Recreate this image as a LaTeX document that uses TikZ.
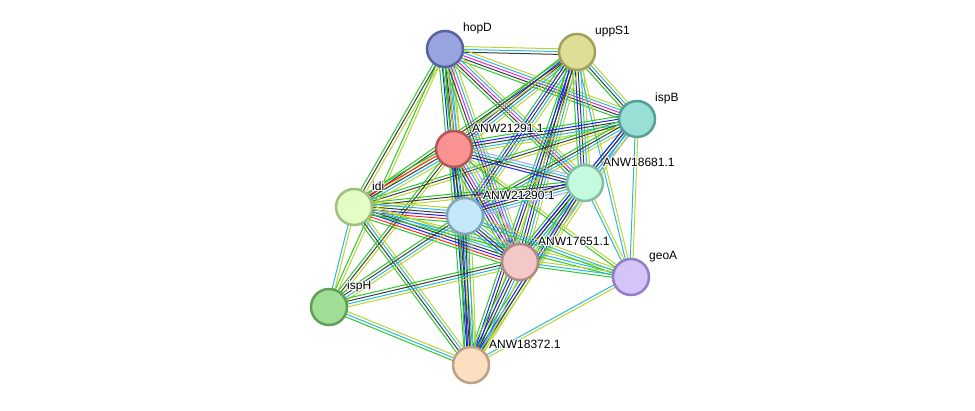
\documentclass[tikz,border=0pt]{standalone}
\usepackage{fontspec}
\setmainfont{Liberation Sans}
\usepackage{contour}
\contourlength{0.9pt}
\usetikzlibrary{calc,backgrounds}
\definecolor{cg}{RGB}{45,200,45}
\definecolor{cr}{RGB}{250,40,40}
\definecolor{cb}{RGB}{30,30,250}
\definecolor{ck}{RGB}{60,60,60}
\definecolor{cm}{RGB}{225,40,225}
\definecolor{cc}{RGB}{40,185,220}
\definecolor{cy}{RGB}{190,212,45}
\definecolor{ch}{RGB}{165,165,255}
\tikzset{
  prot/.style={circle, minimum size=36pt, inner sep=0pt, line width=2.5pt},
  lbl/.style={anchor=west, inner sep=0pt, font=\fontsize{12}{14}\selectfont},
  edge/.style={line width=1pt}
}
\newcommand\bundle[3]{%
  \gdef\nn{0}%
  \foreach \c in {#3}{\xdef\nn{\the\numexpr\nn+1\relax}}%
  \foreach \c [count=\i] in {#3}{%
    \pgfmathsetlengthmacro\off{(\i-(\nn+1)/2)*2.8}%
    \draw[edge, draw=\c] ($(#1)!\off!90:(#2)$) -- ($(#2)!\off!-90:(#1)$);%
  }%
}
\newcommand\prot[6]{%
  \definecolor{f#1}{RGB}{#4}\definecolor{b#1}{RGB}{#5}%
  \node[prot, fill=f#1, draw=b#1] (#1) at (#2,#3) {};
  \node[lbl] (l#1) at ($(#1)+(18,-20)$) {\contour{white}{#6}};
}
\begin{document}
\begin{tikzpicture}[x=1pt,y=-1pt]
\useasboundingbox (0,0) rectangle (975,411);
\prot{hopD}{445}{49}{152,164,222}{88,98,160}{hopD}
\prot{uppS1}{577}{52}{222,222,150}{160,160,92}{uppS1}
\prot{ispB}{637}{119}{152,224,214}{86,158,150}{ispB}
\prot{nA}{454}{149}{250,146,146}{180,86,86}{ANW21291.1}
\prot{nB}{585}{183}{196,250,222}{130,190,160}{ANW18681.1}
\prot{idi}{354}{207}{226,254,196}{160,190,130}{idi}
\prot{nC}{465}{216}{196,232,250}{130,165,190}{ANW21290.1}
\prot{nD}{520}{262}{245,200,200}{180,136,136}{ANW17651.1}
\prot{geoA}{631}{277}{212,196,250}{146,126,196}{geoA}
\prot{ispH}{329}{307}{160,222,150}{96,160,86}{ispH}
\prot{nE}{471}{365}{252,222,192}{190,160,130}{ANW18372.1}
\begin{pgfonlayer}{background}
\bundle{hopD}{uppS1}{ck,cc,cy}
\bundle{hopD}{ispB}{cg,ck,cm,cc,cy}
\bundle{hopD}{nA}{cg,cb,ck,cm,cc,cy}
\bundle{hopD}{idi}{cg,ck,cy}
\bundle{hopD}{ispH}{cg,cy}
\bundle{hopD}{nB}{cg,ck,cm,cc,cy}
\bundle{hopD}{nC}{cg,ck,cc,cy}
\bundle{hopD}{nD}{cg,ck,cm,cc,cy}
\bundle{hopD}{nE}{cg,cy}
\bundle{uppS1}{ispB}{cg,ck,cc,cy}
\bundle{uppS1}{nA}{cg,cb,ck,cc,cy}
\bundle{uppS1}{nB}{cg,cb,ck,cc,cy}
\bundle{uppS1}{idi}{cg,ck,cy}
\bundle{uppS1}{nC}{cg,cb,ck,cc,cy}
\bundle{uppS1}{nD}{cg,cb,ck,cc,cy}
\bundle{uppS1}{geoA}{cc,cy}
\bundle{uppS1}{nE}{cg,cb,ck,cy}
\bundle{ispB}{nA}{cg,cb,ck,cc,cy}
\bundle{ispB}{nB}{cc,cb,ch,ch}
\bundle{ispB}{idi}{cg,ck,cy}
\bundle{ispB}{nC}{cg,ck,cc,cy}
\bundle{ispB}{nD}{cb,ck,cc,ch}
\bundle{ispB}{geoA}{cc,cy}
\bundle{ispB}{nE}{cc,cy}
\bundle{nA}{nB}{cb,ck,cc,ch}
\bundle{nA}{idi}{cg,cr,ck,cc,cy}
\bundle{nA}{nC}{cg,cb,ck,cc,cy}
\bundle{nA}{nD}{cg,cb,ck,cm,cc,cy,ch}
\bundle{nA}{ispH}{cg,ck,cy}
\bundle{nA}{nE}{cg,cb,ck,cc,cy}
\bundle{nA}{geoA}{cg,cy}
\bundle{nB}{idi}{cg,ck,cy}
\bundle{nB}{nC}{cb,ck,cc,ch}
\bundle{nB}{nD}{cg,cb,ck,cc,cy,ch}
\bundle{nB}{geoA}{cc,cy}
\bundle{nB}{nE}{cg,cb,ck,cy}
\bundle{idi}{nC}{cg,cr,cb,ck,cc,cy}
\bundle{idi}{nD}{cg,cr,cb,ck,cc,cy}
\bundle{idi}{geoA}{cg,cc,cy}
\bundle{idi}{ispH}{cc,cy}
\bundle{idi}{nE}{cg,ck,cc,cy}
\bundle{nC}{nD}{cg,cb,ck,cc,cy,ch}
\bundle{nC}{geoA}{cg,cc,cy}
\bundle{nC}{ispH}{cg,ck,cc,cy}
\bundle{nC}{nE}{cg,cb,ck,cc,cy}
\bundle{nD}{geoA}{cg,cc,cy}
\bundle{nD}{ispH}{cg,ck,cc,cy}
\bundle{nD}{nE}{cg,cb,ck,cc,cy}
\bundle{geoA}{nE}{cc,cy}
\bundle{ispH}{nE}{cg,cc,cy}
\end{pgfonlayer}
\end{tikzpicture}
\end{document}
